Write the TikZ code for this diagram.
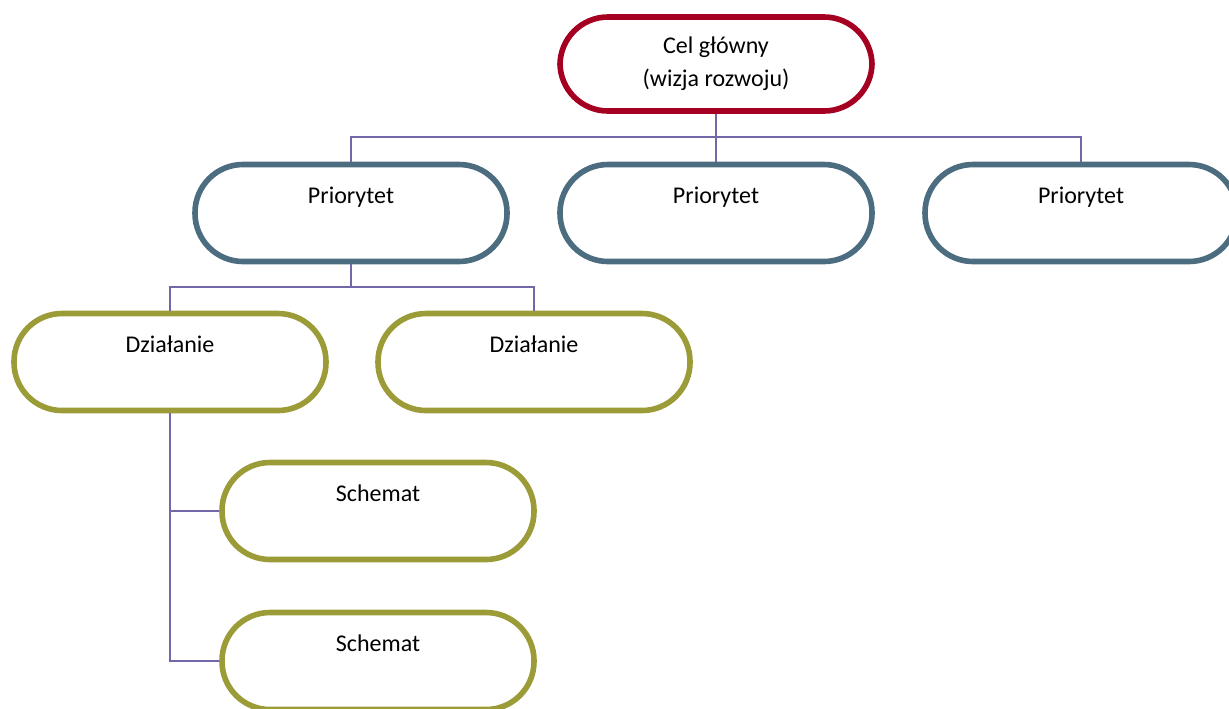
\documentclass[tikz,border=0pt]{standalone}
\usepackage{fontspec}
\setmainfont{Carlito}
\usetikzlibrary{positioning}
\definecolor{goalred}{RGB}{165,0,33}
\definecolor{prioblue}{RGB}{76,108,128}
\definecolor{actolive}{RGB}{155,155,56}
\definecolor{linkviolet}{RGB}{112,104,168}

\begin{document}
\begin{tikzpicture}[
    x=0.5pt, y=-0.5pt,
    pill/.style={rounded corners=24pt, line width=2.8pt, minimum width=156pt, minimum height=48.5pt, fill=white, font=\fontsize{12}{16.5}\selectfont},
    goal/.style={pill, draw=goalred, align=center, minimum height=47pt},
    prio/.style={pill, draw=prioblue, text height=8pt, text depth=18pt},
    act/.style={pill, draw=actolive, text height=8pt, text depth=18pt},
    link/.style={draw=linkviolet, line width=0.8pt}
]
\useasboundingbox (0,0) rectangle (1229,708);
% top level
\node[goal] (goal) at (716,64) {Cel główny\\(wizja rozwoju)};
% priorities
\node[prio] (prio1) at (351,213) {Priorytet};
\node[prio] (prio2) at (716,213) {Priorytet};
\node[prio] (prio3) at (1081,213) {Priorytet};
% actions
\node[act] (act1) at (170,362) {Działanie};
\node[act] (act2) at (534,362) {Działanie};
% schemes
\node[act] (sch1) at (378,511) {Schemat};
\node[act] (sch2) at (378,661) {Schemat};
% connectors
\coordinate (bus1) at (716,137);
\coordinate (bus2) at (351,287);
\draw[link] (goal.south) -- (bus1);
\draw[link] (prio1.north) |- (bus1) -| (prio3.north);
\draw[link] (bus1) -- (prio2.north);
\draw[link] (prio1.south) -- (bus2);
\draw[link] (act1.north) |- (bus2) -| (act2.north);
\draw[link] (act1.south) |- (sch2.west);
\draw[link] (act1.south |- sch1.west) -- (sch1.west);
\end{tikzpicture}
\end{document}
